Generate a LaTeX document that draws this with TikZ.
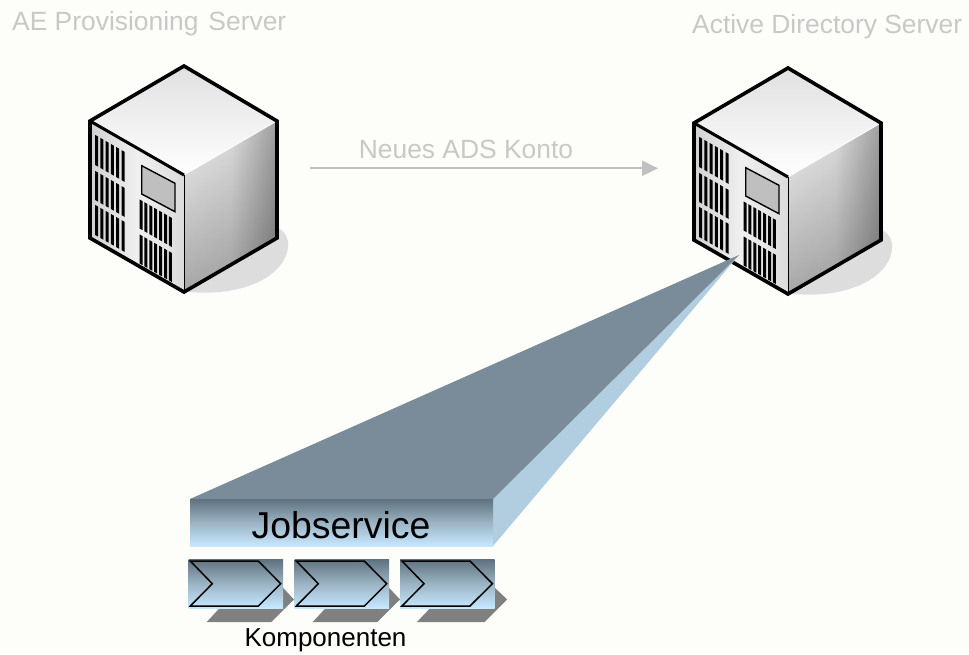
\documentclass[tikz,border=0pt]{standalone}
\usepackage{fontspec}
\setmainfont{Liberation Sans}
\usetikzlibrary{arrows.meta,fadings}
\definecolor{pagebg}{HTML}{FDFEFA}
\definecolor{paletxt}{HTML}{C8C8C8}
\definecolor{arrowgray}{HTML}{C0C0C0}
\definecolor{slate}{HTML}{7A8C99}
\definecolor{paleblue}{HTML}{B1CDE0}
\definecolor{bartop}{HTML}{5F7280}
\definecolor{barmid}{HTML}{9CB4C4}
\definecolor{barbot}{HTML}{C6E8FF}
\tikzfading[name=downfade,top color=transparent!100,middle color=transparent!100,bottom color=transparent!70]
\tikzset{
  x=1pt,y=-1pt,
  palelabel/.style={text=paletxt,inner sep=0pt,font=\fontsize{26.4}{28}\selectfont},
  darklabel/.style={text=black,inner sep=0pt},
  jobbar/.style={draw=none,inner sep=0pt,top color=bartop,bottom color=barbot,middle color=barmid,minimum width=303pt,minimum height=47pt},
  compbox/.style={draw=none,inner sep=0pt,top color=bartop,bottom color=barbot,middle color=barmid,minimum width=94.5pt,minimum height=48.5pt},
  chevline/.style={draw=black,line width=1.5pt,line join=miter},
  flowarrow/.style={draw=arrowgray,line width=2pt,-{Triangle[length=16pt,width=15pt,fill=arrowgray]}}
}
% slats: #1 first u, #2 v top, #3 v height, #4 count, #5 pitch
\newcommand{\slatrow}[5]{%
  \foreach \k in {1,...,#4}{%
    \pgfmathsetmacro{\ua}{#1+(\k-1)*#5}%
    \pgfmathsetmacro{\ub}{\ua+3}%
    \pgfmathsetmacro{\ya}{121+0.574*\ua+#2}%
    \pgfmathsetmacro{\yb}{121+0.574*\ub+#2}%
    \fill[black] (90+\ua,\ya) -- (90+\ub,\yb) -- (90+\ub,\yb+#3) -- (90+\ua,\ya+#3) -- cycle;
  }}
\newcommand{\serverbox}[2]{%
\begin{scope}[shift={(#1,#2)}]
  \fill[gray!27!white] (270,226) .. controls (292,228) and (293,252) .. (278,268) .. controls (258,290) and (215,296) .. (184,291) -- cycle;
  \shade[top color=black!12,bottom color=white] (184,66) -- (277,121) -- (184,175) -- (90,121) -- cycle;
  \shade[left color=black!18,right color=black!14,middle color=black!6] (90,121) -- (184,175) -- (184,292) -- (90,238) -- cycle;
  \shade[left color=black!6,right color=black!38,middle color=black!12] (184,175) -- (277,121) -- (277,238) -- (184,292) -- cycle;
  \fill[black,path fading=downfade,fit fading=true] (184,175) -- (277,121) -- (277,238) -- (184,292) -- cycle;
  \slatrow{5}{11}{30}{6}{5.3}
  \slatrow{5}{47}{29}{6}{5.3}
  \slatrow{5}{81}{30}{6}{5.3}
  \slatrow{49.5}{50}{29}{7}{4.9}
  \slatrow{49.5}{85}{29}{7}{4.9}
  \draw[fill=black!25,line width=1.4pt] (141.7,165.7) -- (175,183.3) -- (175,211.7) -- (141.7,194) -- cycle;
  \draw[white,line width=0.8pt] (184,175) -- (275,122);
  \draw[line width=3pt] (90,121) -- (184,175);
  \draw[line width=0.9pt] (184,175) -- (184,292);
  \draw[line width=3.6pt,line join=miter] (184,66) -- (277,121) -- (277,238) -- (184,292) -- (90,238) -- (90,121) -- cycle;
\end{scope}}
\newcommand{\compshape}[3]{% #1 left x of box, #2 name, #3 extra shadow stretch
  \fill[black!50] (#1+18.4-#3,622) -- (#1+62,575) -- (#1+94,587) -- (#1+105.7+#3,599.5) -- (#1+83+#3,622) -- cycle;
  \node[compbox,anchor=north west] (#2) at (#1,559.3) {};
  \draw[chevline] (#1+2,561) -- (#1+70,561) -- (#1+92.4,583.7) -- (#1+70,606) -- (#1+2,606) -- (#1+24,583.7) -- cycle;
}
\begin{document}
\begin{tikzpicture}
\useasboundingbox (0,0) rectangle (969,654);
\fill[pagebg] (0,0) rectangle (969,654);
\serverbox{0}{0}
\serverbox{604}{2}
% wedge
\fill[paleblue] (493,499) -- (739,255) -- (493,546) -- cycle;
\fill[slate] (190,499) -- (739,255) -- (493,499) -- cycle;
\node[jobbar,anchor=north west] (job) at (190,499) {};
\node[darklabel,font=\fontsize{37.4}{40}\selectfont] (jobtext) at (341,525) {Jobservice};
\compshape{188.3}{compa}{0}
\compshape{294.3}{compb}{0}
\compshape{400}{compc}{1.5}
\node[darklabel,font=\fontsize{26}{28}\selectfont] (komp) at (325.5,640) {Komponenten};
\node[palelabel,anchor=base west] (aelabel) at (12,30) {AE Provisioning\hspace{0.1em} Server};
\node[palelabel,anchor=base west] (adlabel) at (692,33) {Active Directory Server};
\node[palelabel] (neues) at (466,149) {Neues ADS Konto};
\coordinate (arrowstart) at (310,168.3);
\coordinate (arrowend) at (658,168.3);
\draw[flowarrow] (arrowstart) -- (arrowend);
\end{tikzpicture}
\end{document}
